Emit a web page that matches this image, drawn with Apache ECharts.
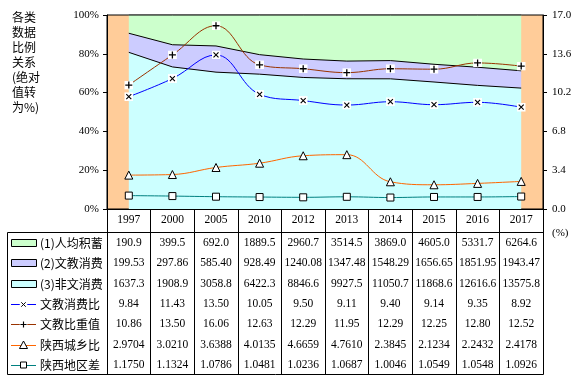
<!DOCTYPE html>
<html><head><meta charset="utf-8">
<script src="https://cdn.jsdelivr.net/npm/echarts@6/dist/echarts.min.js"></script>
<style>html,body{margin:0;padding:0;background:#fff}#c{width:582px;height:380px}</style>
</head><body><div id="c"></div>
<script>
const years = ['1997','2000','2005','2010','2012','2013','2014','2015','2016','2017'];
const savings = [190.9,399.5,692.0,1889.5,2960.7,3514.5,3869.0,4605.0,5331.7,6264.6];
const eduSpend = [199.53,297.86,585.40,928.49,1240.08,1347.48,1548.29,1656.65,1851.95,1943.47];
const otherSpend = [1637.3,1908.9,3058.8,6422.3,8846.6,9927.5,11050.7,11868.6,12616.6,13575.8];
const eduRatio = [9.84,11.43,13.50,10.05,9.50,9.11,9.40,9.14,9.35,8.92];
const eduWeight = [10.86,13.50,16.06,12.63,12.29,11.95,12.29,12.25,12.80,12.52];
const urbanRural = [2.9704,3.0210,3.6388,4.0135,4.6659,4.7610,2.3845,2.1234,2.2432,2.4178];
const regionGap = [1.1750,1.1324,1.0786,1.0481,1.0236,1.0687,1.0046,1.0549,1.0548,1.0926];
const rowNames = ['(1)人均积蓄','(2)文教消费','(3)非文消费','文教消费比','文教比重值','陕西城乡比','陕西地区差'];
const rowDecimals = [1,2,1,2,2,4,4];
const leftTitle = '各类\n数据\n比例\n关系\n(绝对\n值转\n为%)';

const totals = years.map((_, i) => savings[i] + eduSpend[i] + otherSpend[i]);
const pct = arr => arr.map((v, i) => v / totals[i] * 100);
const rows = [savings, eduSpend, otherSpend, eduRatio, eduWeight, urbanRural, regionGap];

const svgUri = s => 'image://data:image/svg+xml;charset=utf-8,' + encodeURIComponent(s);
const xMark = svgUri("<svg xmlns='http://www.w3.org/2000/svg' width='9' height='9'><rect width='9' height='9' fill='white'/><path d='M2 2L7 7M7 2L2 7' stroke='black' stroke-width='1.1'/></svg>");
const plusMark = svgUri("<svg xmlns='http://www.w3.org/2000/svg' width='9' height='9'><rect width='9' height='9' fill='white'/><path d='M4.5 1V8M1 4.5H8' stroke='black' stroke-width='1.3'/></svg>");

const serif = '"Liberation Serif","Times New Roman",serif';
const cjk = '"Noto Sans CJK SC",sans-serif';
const GL = 107, GT = 15, GW = 436, GH = 194, GB = GT + GH;
const rowY = i => 243 + i * 20.33;

const colors = ['#CCFFCC','#CCCCFF','#CCFFFF','#0000FF','#993300','#FF6600','#008080'];

const xAxes = [{
  type: 'category', data: years, gridIndex: 0, position: 'bottom', boundaryGap: true,
  axisLine: {show: true, lineStyle: {color: '#000', width: 1}},
  axisTick: {show: true, length: 23, interval: 0, lineStyle: {color: '#000'}},
  axisLabel: {interval: 0, margin: 11, verticalAlign: 'middle', color: '#000', fontFamily: serif, fontSize: 11.5}
}];
rows.forEach((arr, k) => {
  xAxes.push({
    type: 'category', data: years, gridIndex: 0, position: 'bottom', offset: rowY(k) - GB,
    axisLine: {show: false}, axisTick: {show: false},
    axisLabel: {interval: 0, margin: 0, verticalAlign: 'middle', color: '#000', fontFamily: serif, fontSize: 11.5,
      formatter: (v, idx) => arr[idx].toFixed(rowDecimals[k])}
  });
});
xAxes.push({
  type: 'category', data: years, gridIndex: 0, position: 'bottom', offset: 23,
  axisLine: {show: true, lineStyle: {color: '#000'}},
  axisTick: {show: true, length: 142, interval: 0, lineStyle: {color: '#000'}},
  axisLabel: {show: false}
});

const graphic = [
  {type: 'text', left: 12, top: 10, style: {text: leftTitle, font: '12px ' + cjk, lineHeight: 15, fill: '#000'}},
  {type: 'text', x: 552, y: 233, style: {text: '(%)', font: '11px ' + serif, fill: '#000', verticalAlign: 'middle'}},
  {type: 'rect', shape: {x: 7.5, y: 232.5, width: 536, height: 142}, style: {fill: 'none', stroke: '#000', lineWidth: 1}, z: 10}
];
rowNames.forEach((name, i) => {
  const y = Math.round(rowY(i));
  if (i < 3) {
    graphic.push({type: 'rect', shape: {x: 11.5, y: y - 3.5, width: 25, height: 7}, style: {fill: colors[i], stroke: '#000', lineWidth: 1}});
  } else {
    graphic.push({type: 'line', shape: {x1: 11, y1: y + 0.5, x2: 36, y2: y + 0.5}, style: {stroke: colors[i], lineWidth: 1}});
    if (i === 3 || i === 4) {
      graphic.push({type: 'image', style: {image: (i === 3 ? xMark : plusMark).replace('image://', ''), x: 19.5, y: y - 3.5, width: 8, height: 8}});
    } else if (i === 5) {
      graphic.push({type: 'polygon', shape: {points: [[23.5, y - 4], [19.5, y + 3.5], [27.5, y + 3.5]]}, style: {fill: '#fff', stroke: '#000', lineWidth: 1}});
    } else {
      graphic.push({type: 'rect', shape: {x: 20.5, y: y - 3, width: 6, height: 6}, style: {fill: '#fff', stroke: '#000', lineWidth: 1}});
    }
  }
  graphic.push({type: 'text', x: 40, y: y, style: {text: name, font: '12px ' + cjk, fill: '#000', verticalAlign: 'middle'}});
});

const areaSeries = (name, data, color) => ({
  name, type: 'line', stack: 'total', data, xAxisIndex: 0, yAxisIndex: 0,
  showSymbol: false, symbol: 'none', lineStyle: {color: '#000', width: 1},
  areaStyle: {color, opacity: 1}, z: 1
});
const lineSeries = (name, data, color, symbol, size, z) => ({
  name, type: 'line', data, xAxisIndex: 0, yAxisIndex: 1, smooth: 0.4,
  symbol, symbolSize: size, showAllSymbol: true,
  lineStyle: {color, width: 1},
  itemStyle: {color: '#fff', borderColor: '#000', borderWidth: 1},
  z
});

const chart = echarts.init(document.getElementById('c'), null, {renderer: 'canvas'});
chart.setOption({
  animation: false,
  backgroundColor: '#fff',
  grid: {left: GL, top: GT, width: GW, height: GH, show: true, backgroundColor: '#FFCC99', borderColor: '#000', borderWidth: 1},
  xAxis: xAxes,
  yAxis: [
    {type: 'value', min: 0, max: 100, interval: 20, position: 'left',
      axisLine: {show: true, lineStyle: {color: '#000'}}, axisTick: {show: true, length: 4, lineStyle: {color: '#000'}},
      splitLine: {show: false},
      axisLabel: {formatter: '{value}%', color: '#000', fontFamily: serif, fontSize: 11, margin: 8}},
    {type: 'value', min: 0, max: 17, interval: 3.4, position: 'right',
      axisLine: {show: true, lineStyle: {color: '#000'}}, axisTick: {show: true, length: 4, lineStyle: {color: '#000'}},
      splitLine: {show: false},
      axisLabel: {formatter: v => v.toFixed(1), color: '#000', fontFamily: serif, fontSize: 11, margin: 9}}
  ],
  series: [
    areaSeries('(3)非文消费', pct(otherSpend), '#CCFFFF'),
    areaSeries('(2)文教消费', pct(eduSpend), '#CCCCFF'),
    areaSeries('(1)人均积蓄', pct(savings), '#CCFFCC'),
    lineSeries('陕西地区差', regionGap, '#008080', 'rect', 7, 5),
    lineSeries('陕西城乡比', urbanRural, '#FF6600', 'triangle', 8, 6),
    lineSeries('文教消费比', eduRatio, '#0000FF', xMark, 9, 7),
    lineSeries('文教比重值', eduWeight, '#993300', plusMark, 9, 8)
  ],
  graphic
});
</script></body></html>
